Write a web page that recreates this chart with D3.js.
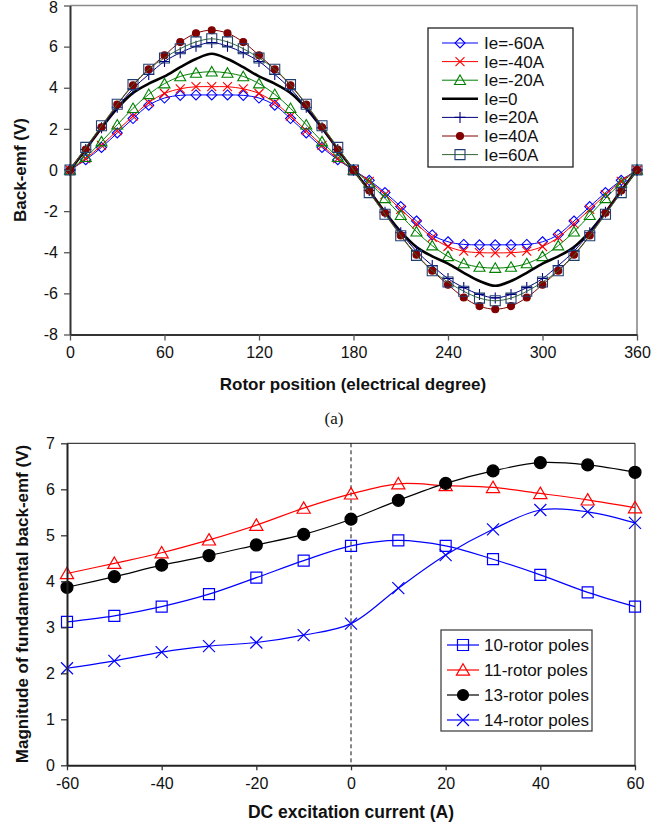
<!DOCTYPE html>
<html><head><meta charset="utf-8">
<script src="https://cdn.jsdelivr.net/npm/d3@7"></script>
<style>
html,body{margin:0;padding:0;background:#fff;}
svg{display:block;font-family:"Liberation Sans",Arial,sans-serif;}
</style></head>
<body>
<svg id="chart" width="668" height="829"></svg>
<script>
// ---------- Data: top chart (back-emf waveforms) ----------
const angles = [0,10,20,30,40,50,60,70,80,90,100,110,120,130,140,150,160,170,180,190,200,210,220,230,240,250,260,270,280,290,300,310,320,330,340,350,360];
const ieM60 = [0,0.5,1.1,1.8,2.5,3.15,3.5,3.63,3.65,3.65,3.65,3.63,3.5,3.15,2.5,1.8,1.1,0.5,0,-0.5,-1.1,-1.78,-2.48,-3.16,-3.49,-3.62,-3.64,-3.64,-3.64,-3.62,-3.49,-3.14,-2.48,-1.78,-1.1,-0.5,0];
const ieM40 = [0,0.55,1.2,1.92,2.62,3.28,3.72,3.95,4.05,4.05,4.05,3.95,3.72,3.28,2.62,1.92,1.2,0.55,0,-0.55,-1.2,-1.92,-2.62,-3.28,-3.72,-3.95,-4.02,-4.03,-4.02,-3.95,-3.72,-3.28,-2.62,-1.92,-1.2,-0.55,0];
const ieM20 = [0,0.62,1.38,2.2,3.0,3.68,4.2,4.55,4.72,4.78,4.72,4.55,4.2,3.68,3.0,2.2,1.38,0.62,0,-0.62,-1.38,-2.2,-3.0,-3.68,-4.2,-4.55,-4.72,-4.77,-4.72,-4.55,-4.2,-3.68,-3.0,-2.2,-1.38,-0.62,0];
const ie0   = [0,1.0,2.05,3.0,3.75,4.2,4.55,5.0,5.4,5.65,5.4,5.0,4.55,4.2,3.75,3.0,2.05,1.0,0,-1.0,-2.05,-3.0,-3.75,-4.2,-4.55,-5.0,-5.4,-5.63,-5.4,-5.0,-4.55,-4.2,-3.75,-3.0,-2.05,-1.0,0];
const ie20  = [0,1.0,2.05,3.05,3.95,4.65,5.28,5.7,6.02,6.2,6.02,5.7,5.28,4.65,3.95,3.05,2.05,1.0,0,-1.0,-2.05,-3.05,-3.95,-4.65,-5.28,-5.72,-6.05,-6.22,-6.05,-5.72,-5.28,-4.65,-3.95,-3.05,-2.05,-1.0,0];
const ie40  = [0,1.0,2.08,3.18,4.12,4.9,5.58,6.22,6.65,6.8,6.65,6.22,5.58,4.9,4.12,3.18,2.08,1.0,0,-1.0,-2.08,-3.18,-4.12,-4.9,-5.58,-6.2,-6.62,-6.77,-6.62,-6.2,-5.58,-4.9,-4.12,-3.18,-2.08,-1.0,0];
const ie60  = [0,1.1,2.15,3.2,4.15,4.9,5.45,5.9,6.23,6.38,6.23,5.9,5.45,4.9,4.15,3.2,2.15,1.1,0,-1.1,-2.15,-3.2,-4.15,-4.9,-5.45,-5.9,-6.23,-6.36,-6.23,-5.9,-5.45,-4.9,-4.15,-3.2,-2.15,-1.1,0];
const topSeriesNames = ["Ie=-60A","Ie=-40A","Ie=-20A","Ie=0","Ie=20A","Ie=40A","Ie=60A"];
const topXTicks = [0,60,120,180,240,300,360];
const topYTicks = [-8,-6,-4,-2,0,2,4,6,8];

// ---------- Data: bottom chart (fundamental magnitude) ----------
const current = [-60,-50,-40,-30,-20,-10,0,10,20,30,40,50,60];
const poles10 = [3.12,3.25,3.45,3.72,4.08,4.45,4.77,4.89,4.77,4.48,4.14,3.76,3.45];
const poles11 = [4.17,4.39,4.62,4.90,5.22,5.59,5.90,6.12,6.08,6.04,5.91,5.77,5.60];
const poles13 = [3.87,4.10,4.35,4.56,4.79,5.02,5.35,5.76,6.13,6.40,6.58,6.53,6.37];
const poles14 = [2.11,2.27,2.46,2.59,2.67,2.83,3.08,3.85,4.57,5.13,5.55,5.51,5.27];
const botSeriesNames = ["10-rotor poles","11-rotor poles","13-rotor poles","14-rotor poles"];
const botXTicks = [-60,-40,-20,0,20,40,60];
const botYTicks = [0,1,2,3,4,5,6,7];

// ---------- Marker path helpers ----------
function mk(type, s){
  const h = s/2;
  switch(type){
    case "diamond": return `M0,${-h}L${h},0L0,${h}L${-h},0Z`;
    case "square": return `M${-h},${-h}H${h}V${h}H${-h}Z`;
    case "triangle": return `M0,${-h*1.05}L${h*1.1},${h*0.85}L${-h*1.1},${h*0.85}Z`;
    case "x": return `M${-h},${-h}L${h},${h}M${-h},${h}L${h},${-h}`;
    case "plus": return `M${-h},0H${h}M0,${-h}V${h}`;
    case "circle": return d3.symbol(d3.symbolCircle, s*s*Math.PI/4)();
  }
  return "";
}
const fmt = d => String(d); // plain hyphen-minus, no decimals

const svg = d3.select("#chart");

// =============== TOP CHART ===============
const tx = d3.scaleLinear().domain([0,360]).range([70,637]);
const ty = d3.scaleLinear().domain([-8,8]).range([334.5,5.5]);
const gTop = svg.append("g");

gTop.append("path").attr("d",`M${tx(0)},${ty(8)}H${tx(360)}V${ty(-8)}`)
  .attr("fill","none").attr("stroke","#8a8a8a").attr("stroke-width",1.6);

const topDefs = [
  {vals: ieM60, line:"#0000ff", mark:"diamond", ms:10, stroke:"#0000ff", fill:"none", lw:1},
  {vals: ieM40, line:"#ff0000", mark:"x", ms:9, stroke:"#ff0000", fill:"none", lw:1},
  {vals: ieM20, line:"#008000", mark:"triangle", ms:10, stroke:"#008000", fill:"none", lw:1},
  {vals: ie0, line:"#000000", mark:null, ms:0, stroke:"#000", fill:"none", lw:2.6},
  {vals: ie20, line:"#000080", mark:"plus", ms:11, stroke:"#000080", fill:"none", lw:1},
  {vals: ie40, line:"#800000", mark:"circle", ms:7, stroke:"#800000", fill:"#800000", lw:1},
  {vals: ie60, line:"#336633", mark:"square", ms:10, stroke:"#1f3f70", fill:"none", lw:1}
];
const topLine = d3.line().x((d,i)=>tx(angles[i])).y(d=>ty(d)).curve(d3.curveCatmullRom.alpha(0.5));
topDefs.forEach(s=>{
  gTop.append("path").attr("d",topLine(s.vals)).attr("fill","none")
    .attr("stroke",s.line).attr("stroke-width",s.lw);
  if(s.mark){
    gTop.append("g").selectAll("path").data(s.vals).join("path")
      .attr("transform",(d,i)=>`translate(${tx(angles[i])},${ty(d)})`)
      .attr("d",mk(s.mark,s.ms)).attr("fill",s.fill).attr("stroke",s.stroke).attr("stroke-width",1.1);
  }
});

const topXAxis = d3.axisBottom(tx).tickValues(topXTicks).tickFormat(fmt).tickSize(6).tickSizeOuter(0).tickPadding(6);
const topYAxis = d3.axisLeft(ty).tickValues(topYTicks).tickFormat(fmt).tickSize(6).tickSizeOuter(0).tickPadding(6);
const gtx = gTop.append("g").attr("transform",`translate(0,${ty(-8)})`).call(topXAxis);
const gty = gTop.append("g").attr("transform",`translate(${tx(0)},0)`).call(topYAxis);
[gtx,gty].forEach(g=>{
  g.select(".domain").attr("stroke","#333").attr("stroke-width",2);
  g.selectAll(".tick line").attr("stroke","#555").attr("stroke-width",1.3);
  g.selectAll(".tick text").attr("font-size",16).attr("fill","#111").attr("font-family","Liberation Sans, Arial, sans-serif");
});
gty.selectAll(".tick text").filter(d=>d===8).attr("dy","0.42em");

gTop.append("text").attr("x",353).attr("y",390).attr("text-anchor","middle")
  .attr("font-weight","bold").attr("font-size",17).attr("fill","#111").text("Rotor position (electrical degree)");
gTop.append("text").attr("transform",`translate(26,170) rotate(-90)`).attr("text-anchor","middle")
  .attr("font-weight","bold").attr("font-size",17).attr("fill","#111").text("Back-emf (V)");

const tl = gTop.append("g").attr("transform","translate(428,28)");
tl.append("rect").attr("x",0).attr("y",0).attr("width",145).attr("height",139)
  .attr("fill","#fff").attr("stroke","#222").attr("stroke-width",1.3);
topDefs.forEach((s,i)=>{
  const yy = 15 + i*18.6;
  tl.append("line").attr("x1",14).attr("x2",50).attr("y1",yy).attr("y2",yy)
    .attr("stroke",s.line).attr("stroke-width",s.lw);
  if(s.mark) tl.append("path").attr("transform",`translate(32,${yy})`).attr("d",mk(s.mark,s.ms))
    .attr("fill",s.fill).attr("stroke",s.stroke).attr("stroke-width",1.1);
  tl.append("text").attr("x",56).attr("y",yy+6).attr("font-size",17).attr("fill","#111").text(topSeriesNames[i]);
});

svg.append("text").attr("x",334).attr("y",424).attr("text-anchor","middle")
  .attr("font-family","Liberation Serif, Times New Roman, serif").attr("font-size",17).attr("fill","#111").text("(a)");

// =============== BOTTOM CHART ===============
const bx = d3.scaleLinear().domain([-60,60]).range([67,635]);
const by = d3.scaleLinear().domain([0,7]).range([765.3,443.3]);
const gB = svg.append("g");

gB.append("path").attr("d",`M${bx(-60)},${by(7)}H${bx(60)}V${by(0)}`)
  .attr("fill","none").attr("stroke","#111").attr("stroke-width",1);
gB.append("line").attr("x1",bx(0)).attr("x2",bx(0)).attr("y1",by(7)).attr("y2",by(0))
  .attr("stroke","#111").attr("stroke-width",1).attr("stroke-dasharray","4,3");

const botDefs = [
  {vals: poles10, line:"#0000ff", mark:"square", ms:11, stroke:"#0000ff", fill:"none"},
  {vals: poles11, line:"#ff0000", mark:"triangle", ms:12, stroke:"#ff0000", fill:"none"},
  {vals: poles13, line:"#000000", mark:"circle", ms:12, stroke:"#000", fill:"#000"},
  {vals: poles14, line:"#0000ff", mark:"x", ms:12, stroke:"#0000ff", fill:"none"}
];
const botLine = d3.line().x((d,i)=>bx(current[i])).y(d=>by(d)).curve(d3.curveCatmullRom.alpha(0.5));
botDefs.forEach(s=>{
  gB.append("path").attr("d",botLine(s.vals)).attr("fill","none").attr("stroke",s.line).attr("stroke-width",1.2);
  gB.append("g").selectAll("path").data(s.vals).join("path")
    .attr("transform",(d,i)=>`translate(${bx(current[i])},${by(d)})`)
    .attr("d",mk(s.mark,s.ms)).attr("fill",s.fill).attr("stroke",s.stroke).attr("stroke-width",1.2);
});

const bXAxis = d3.axisBottom(bx).tickValues(botXTicks).tickFormat(fmt).tickSize(5).tickSizeOuter(0).tickPadding(7);
const bYAxis = d3.axisLeft(by).tickValues(botYTicks).tickFormat(fmt).tickSize(6).tickSizeOuter(0).tickPadding(6);
const gbx = gB.append("g").attr("transform",`translate(0,${by(0)})`).call(bXAxis);
const gby = gB.append("g").attr("transform",`translate(${bx(-60)},0)`).call(bYAxis);
[gbx,gby].forEach(g=>{
  g.select(".domain").attr("stroke","#222").attr("stroke-width",2);
  g.selectAll(".tick line").attr("stroke","#333").attr("stroke-width",1.3);
  g.selectAll(".tick text").attr("font-size",16).attr("fill","#111").attr("font-family","Liberation Sans, Arial, sans-serif");
});

gB.append("text").attr("x",351).attr("y",818).attr("text-anchor","middle")
  .attr("font-weight","bold").attr("font-size",17.5).attr("fill","#111").text("DC excitation current (A)");
gB.append("text").attr("transform",`translate(28,604) rotate(-90)`).attr("text-anchor","middle")
  .attr("font-weight","bold").attr("font-size",17).attr("fill","#111").text("Magnitude of fundamental back-emf (V)");

const bl = gB.append("g").attr("transform","translate(441,630)");
bl.append("rect").attr("x",0).attr("y",0).attr("width",151).attr("height",101)
  .attr("fill","#fff").attr("stroke","#444").attr("stroke-width",1.3);
botDefs.forEach((s,i)=>{
  const yy = 15 + i*25;
  bl.append("line").attr("x1",6).attr("x2",38).attr("y1",yy).attr("y2",yy).attr("stroke",s.line).attr("stroke-width",1.2);
  bl.append("path").attr("transform",`translate(22,${yy})`).attr("d",mk(s.mark, s.mark==="circle"?11:s.ms))
    .attr("fill",s.fill).attr("stroke",s.stroke).attr("stroke-width",1.2);
  bl.append("text").attr("x",43).attr("y",yy+6).attr("font-size",17).attr("fill","#111").text(botSeriesNames[i]);
});
</script>
</body></html>
